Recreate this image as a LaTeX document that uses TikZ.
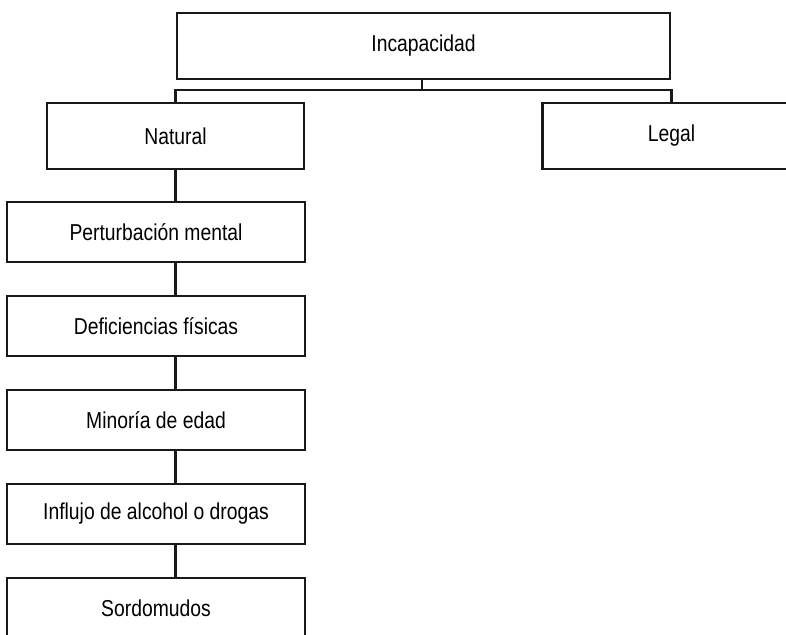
\documentclass[tikz,border=0pt]{standalone}
\usepackage{fontspec}
\newfontfamily\labfont[FakeStretch=0.84]{Liberation Sans}
\begin{document}
\begin{tikzpicture}[x=1pt,y=-1pt,
  box/.style={draw=black!90, line width=2.2pt, inner sep=0pt, outer sep=0pt,
    font=\labfont\fontsize{23}{27}\selectfont},
  link/.style={draw=black!90, line width=2.2pt}]
\useasboundingbox (0,0) rectangle (786,634);
\clip (0,0) rectangle (786,634);
\node[box, minimum width=493pt, minimum height=66pt] (top) at (423.5,46) {Incapacidad};
\node[box, minimum width=257pt, minimum height=66pt] (nat) at (175.5,136) {Natural};
\node[box, minimum width=258pt, minimum height=66pt] (leg) at (671.5,136) {Legal};
\node[box, minimum width=298pt, minimum height=60pt] (pert) at (156,232) {Perturbación mental};
\node[box, minimum width=298pt, minimum height=60pt] (def) at (156,326) {Deficiencias físicas};
\node[box, minimum width=298pt, minimum height=60pt] (mino) at (156,420) {Minoría de edad};
\node[box, minimum width=298pt, minimum height=60pt] (infl) at (156,514) {Influjo de alcohol o drogas};
\node[box, minimum width=298pt, minimum height=60pt] (sord) at (156,608) {Sordomudos};
\coordinate (bar) at (422,90);
\draw[link] (top.south -| bar) -- (bar);
\draw[link] (nat.north) |- (bar) -| (leg.north);
\draw[link] (nat.south) -- (nat.south |- pert.north);
\draw[link] (pert.south -| nat.south) -- (def.north -| nat.south);
\draw[link] (def.south -| nat.south) -- (mino.north -| nat.south);
\draw[link] (mino.south -| nat.south) -- (infl.north -| nat.south);
\draw[link] (infl.south -| nat.south) -- (sord.north -| nat.south);
\end{tikzpicture}
\end{document}
